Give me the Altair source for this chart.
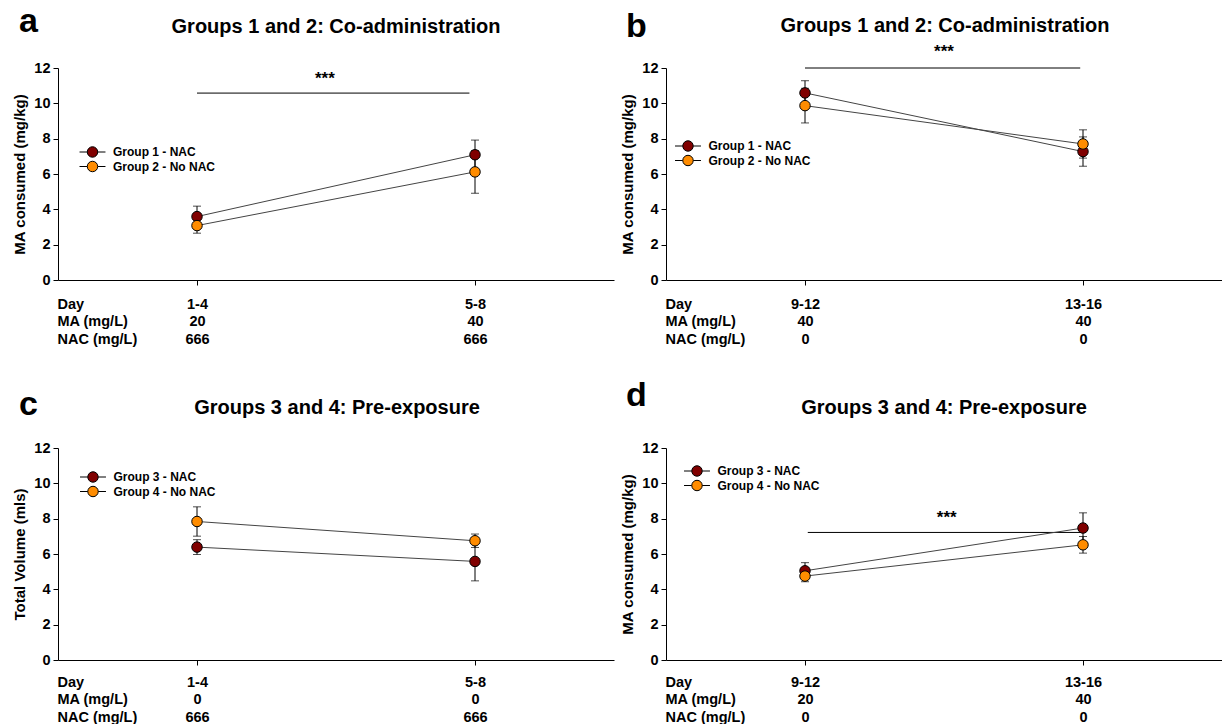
import altair as alt
import pandas as pd

FONT = "Liberation Sans"
LEG_FONT = "Liberation Sans"
COLORS = ["#800000", "#FF8C00"]

# ---------------- data ----------------
x_pos = [1, 2]
y_ticks = [0, 2, 4, 6, 8, 10, 12]

# Panel a
a_groups = ["Group 1 - NAC", "Group 2 - No NAC"]
a_g1_mean = [3.59, 7.09]
a_g1_err = [0.59, 0.83]
a_g2_mean = [3.08, 6.12]
a_g2_err = [0.43, 1.21]
a_day = ["1-4", "5-8"]
a_ma = ["20", "40"]
a_nac = ["666", "666"]
a_sig = [1.0, 1.98, 10.58]
a_star = [1.46, 11.68]

# Panel b
b_groups = ["Group 1 - NAC", "Group 2 - No NAC"]
b_g1_mean = [10.59, 7.27]
b_g1_err = [0.69, 0.83]
b_g2_mean = [9.87, 7.70]
b_g2_err = [0.98, 0.80]
b_day = ["9-12", "13-16"]
b_ma = ["40", "40"]
b_nac = ["0", "0"]
b_sig = [1.0, 1.99, 12.0]
b_star = [1.50, 13.2]

# Panel c
c_groups = ["Group 3 - NAC", "Group 4 - No NAC"]
c_g1_mean = [6.39, 5.58]
c_g1_err = [0.42, 1.10]
c_g2_mean = [7.84, 6.75]
c_g2_err = [0.83, 0.38]
c_day = ["1-4", "5-8"]
c_ma = ["0", "0"]
c_nac = ["666", "666"]

# Panel d
d_groups = ["Group 3 - NAC", "Group 4 - No NAC"]
d_g1_mean = [5.05, 7.47]
d_g1_err = [0.46, 0.86]
d_g2_mean = [4.75, 6.52]
d_g2_err = [0.32, 0.47]
d_day = ["9-12", "13-16"]
d_ma = ["20", "40"]
d_nac = ["0", "0"]
d_sig = [1.01, 2.0, 7.22]
d_star = [1.51, 8.33]

ROW_HEADERS = ["Day", "MA (mg/L)", "NAC (mg/L)"]

# ---------------- layout (pixel offsets relative to plot origin) ----------------
W, H = 556, 212
LEG_SIZE = 121  # symbol box 11px
LAYOUT = {
    "a": dict(letter=(-39, -36), title=(278, -41), legend=(28.5, 78), lpad=12),
    "b": dict(letter=(-40, -31), title=(279, -42), legend=(16, 72), lpad=12),
    "c": dict(letter=(-39, -33), title=(279, -40), legend=(29, 23), lpad=10),
    "d": dict(letter=(-40, -42), title=(278, -40), legend=(25, 17), lpad=10),
}

LEG_PATH = ("M-2.36,0L-0.95,0M0.95,0L2.36,0"
            "M0.95,0A0.95,0.95,0,1,1,-0.95,0A0.95,0.95,0,1,1,0.95,0Z")


def make_df(groups, m1, e1, m2, e2):
    rows = []
    for g, means, errs in ((groups[0], m1, e1), (groups[1], m2, e2)):
        for xv, m, e in zip(x_pos, means, errs):
            rows.append({"group": g, "x": xv, "mean": m, "lo": m - e, "hi": m + e})
    return pd.DataFrame(rows)


def panel(key, letter, title, ytitle, groups, m1, e1, m2, e2, day, ma, nac,
          sig=None, star=None):
    lay = LAYOUT[key]
    df = make_df(groups, m1, e1, m2, e2)
    lab = "[" + ",".join(
        "['%s','%s','%s']" % (day[i], ma[i], nac[i]) for i in range(2)) + "][datum.value-1]"

    xaxis = alt.Axis(
        values=x_pos, labelExpr=lab, grid=False,
        tickSize=5, tickColor="black", domainColor="black",
        labelFont=FONT, labelFontSize=14.5, labelFontWeight="bold",
        labelColor="black", labelLineHeight=17.5, labelBaseline="top",
        labelPadding=lay["lpad"], labelAngle=0, labelOverlap=False,
        title=ROW_HEADERS, titleFont=FONT, titleFontSize=14.5,
        titleFontWeight="bold", titleColor="black", titleLineHeight=17.5,
        titleAnchor="start", titleAlign="left", titleBaseline="top",
        titleX=-1, titleY=lay["lpad"] + 5, titleAngle=0,
    )
    yaxis = alt.Axis(
        values=y_ticks, grid=False, tickSize=5,
        tickColor="black", domainColor="black",
        labelFont=FONT, labelFontSize=14.5, labelFontWeight="bold",
        labelColor="black", labelPadding=3, labelOverlap=False,
        labelBound=False, labelFlush=False,
        title=ytitle, titleFont=FONT, titleFontSize=15,
        titleFontWeight="bold", titleColor="black", titlePadding=6,
    )
    xsc = alt.Scale(domain=[0.5, 2.5], nice=False, zero=False)
    ysc = alt.Scale(domain=[0, 12], nice=False)

    def X(f):
        return alt.X(f, type="quantitative", scale=xsc, axis=xaxis)

    def Y(f):
        return alt.Y(f, type="quantitative", scale=ysc, axis=yaxis)

    base = alt.Chart(df)

    err_rule = base.mark_rule(color="black", strokeWidth=1).encode(
        x=X("x"), y=Y("lo"), y2="hi:Q")
    cap_hi = base.mark_tick(color="black", orient="horizontal", size=8,
                            thickness=1).encode(x=X("x"), y=Y("hi"))
    cap_lo = base.mark_tick(color="black", orient="horizontal", size=8,
                            thickness=1).encode(x=X("x"), y=Y("lo"))
    lines = base.mark_line(color="#444444", strokeWidth=1).encode(
        x=X("x"), y=Y("mean"), detail="group:N", order="x:Q")
    pts = base.mark_point(filled=True, size=110, opacity=1, stroke="black",
                          strokeWidth=1).encode(
        x=X("x"), y=Y("mean"),
        color=alt.Color(
            "group:N",
            scale=alt.Scale(domain=groups, range=COLORS),
            sort=groups,
            legend=alt.Legend(
                title=None, orient="none",
                legendX=lay["legend"][0], legendY=lay["legend"][1],
                symbolType=LEG_PATH, symbolSize=LEG_SIZE,
                symbolStrokeColor="black", symbolStrokeWidth=1,
                labelFont=LEG_FONT, labelFontSize=12, labelFontWeight="bold",
                labelColor="black", labelOffset=14.5, rowPadding=-1.5,
                padding=0,
            ),
        ),
    )
    layers = [err_rule, cap_hi, cap_lo, lines, pts]

    if sig is not None:
        sdf = pd.DataFrame({"x1": [sig[0]], "x2": [sig[1]], "y": [sig[2]],
                            "sx": [star[0]], "sy": [star[1]], "t": ["***"]})
        sc = alt.Chart(sdf)
        layers.insert(0, sc.mark_rule(color="black", strokeWidth=1).encode(
            x=X("x1"), x2="x2:Q", y=Y("y")))
        layers.insert(1, sc.mark_text(font=FONT, fontSize=17, fontWeight="bold",
                                      baseline="middle", dy=5).encode(
            x=X("sx"), y=Y("sy"), text="t:N"))

    tdf = pd.DataFrame({"letter": [letter], "title": [title]})
    tc = alt.Chart(tdf)
    layers.append(tc.mark_text(font=FONT, fontSize=34, fontWeight="bold",
                               align="left", baseline="alphabetic").encode(
        x=alt.value(lay["letter"][0]), y=alt.value(lay["letter"][1]),
        text="letter:N"))
    layers.append(tc.mark_text(font=FONT, fontSize=20, fontWeight="bold",
                               align="center", baseline="middle").encode(
        x=alt.value(lay["title"][0]), y=alt.value(lay["title"][1]),
        text="title:N"))

    return alt.layer(*layers).properties(width=W, height=H)


pa = panel("a", "a", "Groups 1 and 2: Co-administration", "MA consumed (mg/kg)",
           a_groups, a_g1_mean, a_g1_err, a_g2_mean, a_g2_err, a_day, a_ma, a_nac,
           a_sig, a_star)
pb = panel("b", "b", "Groups 1 and 2: Co-administration", "MA consumed (mg/kg)",
           b_groups, b_g1_mean, b_g1_err, b_g2_mean, b_g2_err, b_day, b_ma, b_nac,
           b_sig, b_star)
pc = panel("c", "c", "Groups 3 and 4: Pre-exposure", "Total Volume (mls)",
           c_groups, c_g1_mean, c_g1_err, c_g2_mean, c_g2_err, c_day, c_ma, c_nac)
pd_ = panel("d", "d", "Groups 3 and 4: Pre-exposure", "MA consumed (mg/kg)",
            d_groups, d_g1_mean, d_g1_err, d_g2_mean, d_g2_err, d_day, d_ma, d_nac,
            d_sig, d_star)

row1 = alt.hconcat(pa, pb, spacing=6).resolve_scale(color="independent")
row2 = alt.hconcat(pc, pd_, spacing=6).resolve_scale(color="independent")
chart = (
    alt.vconcat(row1, row2, spacing=33)
    .resolve_scale(color="independent")
    .properties(padding={"left": 12, "top": 5, "right": 0, "bottom": 0},
                background="white")
    .configure_view(stroke=None)
)

chart.save("out.html", embed_options={"renderer": "svg", "actions": False})
